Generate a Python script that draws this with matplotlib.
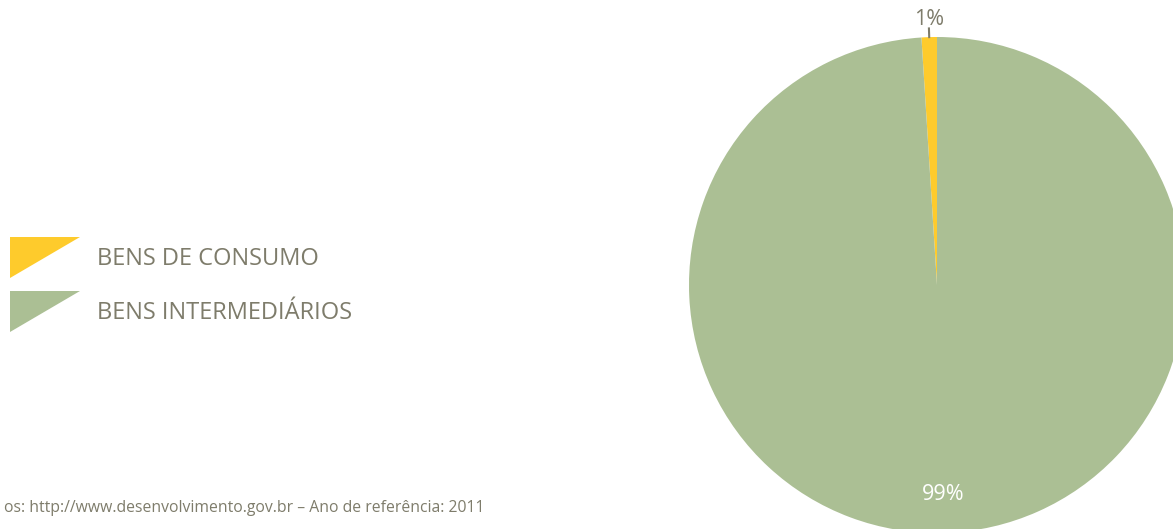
import numpy as np
import matplotlib.pyplot as plt
from matplotlib.patches import Polygon

categories = ['BENS DE CONSUMO', 'BENS INTERMEDIÁRIOS']
values = [1, 99]
colors = ['#FECB2C', '#ABBF94']
source = 'os: http://www.desenvolvimento.gov.br \u2013 Ano de refer\u00eancia: 2011'

plt.rcParams['font.family'] = ['Open Sans', 'DejaVu Sans']
gray = '#7E7C6B'

W, H = 1173, 529
fig = plt.figure(figsize=(W / 100, H / 100), dpi=100)

# overlay axes in pixel coordinates for legend and source text
ov = fig.add_axes([0, 0, 1, 1])
ov.set_xlim(0, W)
ov.set_ylim(H, 0)
ov.axis('off')

# pie axes
cx, cy, r = 937, 285, 248
pa = fig.add_axes([(cx - r) / W, (H - cy - r) / H, 2 * r / W, 2 * r / H])
wedges, _ = pa.pie(values, colors=colors, startangle=90, counterclock=True,
                   radius=1, wedgeprops=dict(linewidth=0, clip_on=False))
pa.set_xlim(-1, 1)
pa.set_ylim(-1, 1)
pa.set_aspect('equal')
pa.axis('off')

total = sum(values)
for w, v in zip(wedges, values):
    ang = np.deg2rad((w.theta1 + w.theta2) / 2)
    pct = f'{v / total * 100:.0f}%'
    if v / total < 0.05:
        pa.plot([np.cos(ang), 1.035 * np.cos(ang)], [np.sin(ang), 1.035 * np.sin(ang)],
                color=gray, lw=1.5, clip_on=False)
        pa.text(1.073 * np.cos(ang), 1.073 * np.sin(ang), pct, ha='center', va='center',
                color=gray, fontsize=15.5)
    else:
        pa.text(0.845 * np.cos(ang), 0.845 * np.sin(ang), pct, ha='center', va='center',
                color='white', fontsize=15.5)

# legend
for i, (lab, c) in enumerate(zip(categories, colors)):
    y0 = 237 + i * 54
    ov.add_patch(Polygon([[10, y0], [80, y0], [10, y0 + 41]], closed=True,
                         facecolor=c, edgecolor='none'))
    ov.text(97, y0 + 22, lab, ha='left', va='center', color=gray, fontsize=17)

ov.text(485, 508, source, ha='right', va='center', color=gray, fontsize=11.3)

fig.savefig('out.png', dpi=100)
